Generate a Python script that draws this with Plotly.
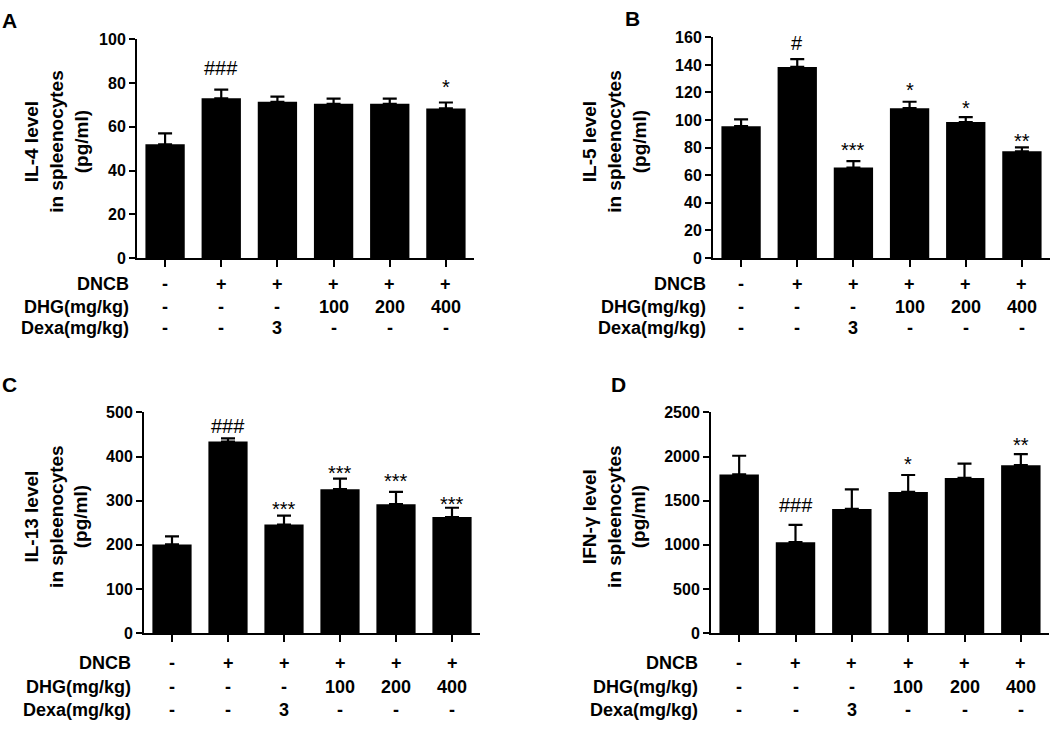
import plotly.graph_objects as go

# groups (same order in every panel)
groups = ["ctrl", "dncb", "dexa", "dhg100", "dhg200", "dhg400"]
dncb_row = ["-", "+", "+", "+", "+", "+"]
dhg_row = ["-", "-", "-", "100", "200", "400"]
dexa_row = ["-", "-", "3", "-", "-", "-"]

# panel A: IL-4
il4_mean = [52, 73, 71.4, 70.5, 70.5, 68.4]
il4_err = [5, 4, 2.4, 2.4, 2.4, 2.7]
il4_sig = ["", "###", "", "", "", "*"]
il4_sig_y = [0, 87, 0, 0, 0, 80]

# panel B: IL-5
il5_mean = [95.6, 138.5, 65.6, 108.6, 98.6, 77.4]
il5_err = [4.9, 5.7, 4.7, 4.7, 3.6, 2.8]
il5_sig = ["", "#", "***", "*", "*", "**"]
il5_sig_y = [0, 156, 81, 125, 112, 88]

# panel C: IL-13
il13_mean = [201, 434, 246, 326, 292, 263]
il13_err = [18, 7, 20, 24, 28, 21]
il13_sig = ["", "###", "***", "***", "***", "***"]
il13_sig_y = [0, 470, 291, 372, 354, 302]

# panel D: IFN-γ
ifn_mean = [1798, 1030, 1407, 1599, 1758, 1902]
ifn_err = [211, 196, 221, 192, 162, 125]
ifn_sig = ["", "###", "", "*", "", "**"]
ifn_sig_y = [0, 1447, 0, 1964, 0, 2179]

W, H = 1059, 732
FONT = "Arial, Liberation Sans, sans-serif"


def px_x(v):
    return v / W


def px_y(v):
    return 1 - v / H


panels = [
    dict(mean=il4_mean, err=il4_err, sig=il4_sig, sig_y=il4_sig_y, rng=100, dtick=20,
         title="IL-4 level<br>in spleenocytes<br>(pg/ml)", letter="A",
         x0=137, x1=474, ytop=32, yzero=256, title_x=56, title_y=137,
         letter_xy=(9, 13), rows_y=(283, 306, 328), label_x=131),
    dict(mean=il5_mean, err=il5_err, sig=il5_sig, sig_y=il5_sig_y, rng=160, dtick=20,
         title="IL-5 level<br>in spleenocytes<br>(pg/ml)", letter="B",
         x0=713, x1=1050, ytop=30, yzero=256, title_x=614, title_y=137,
         letter_xy=(632, 11), rows_y=(283, 306, 328), label_x=708),
    dict(mean=il13_mean, err=il13_err, sig=il13_sig, sig_y=il13_sig_y, rng=500, dtick=100,
         title="IL-13 level<br>in spleenocytes<br>(pg/ml)", letter="C",
         x0=144, x1=480, ytop=414, yzero=640, title_x=56, title_y=521,
         letter_xy=(9, 385), rows_y=(671, 695, 719), label_x=133),
    dict(mean=ifn_mean, err=ifn_err, sig=ifn_sig, sig_y=ifn_sig_y, rng=2500, dtick=500,
         title="IFN-γ level<br>in spleenocytes<br>(pg/ml)", letter="D",
         x0=711, x1=1049, ytop=414, yzero=640, title_x=614, title_y=521,
         letter_xy=(618, 385), rows_y=(671, 695, 719), label_x=700),
]

fig = go.Figure()
annotations = []

for i, p in enumerate(panels, start=1):
    xa = "x" if i == 1 else f"x{i}"
    ya = "y" if i == 1 else f"y{i}"

    fig.add_trace(go.Bar(
        x=groups, y=p["mean"], xaxis=xa, yaxis=ya,
        width=0.7,
        marker=dict(color="black", line=dict(width=0)),
        error_y=dict(type="data", array=p["err"], arrayminus=[0] * 6,
                     symmetric=False, color="black", thickness=2.2, width=7),
        showlegend=False,
    ))

    axis_common = dict(showline=True, linecolor="black", linewidth=2, ticks="outside",
                       tickcolor="black", tickwidth=2, showgrid=False, zeroline=False)
    fig.layout[f"xaxis{'' if i == 1 else i}"] = dict(
        domain=[px_x(p["x0"]), px_x(p["x1"])], anchor=ya, range=[-0.5, 5.5],
        type="category", showticklabels=False, ticklen=7, **axis_common)
    fig.layout[f"yaxis{'' if i == 1 else i}"] = dict(
        domain=[px_y(p["yzero"]), px_y(p["ytop"])], anchor=xa, range=[0, p["rng"]],
        dtick=p["dtick"], ticklen=6,
        tickfont=dict(family=FONT, size=16, color="black", weight="bold"), **axis_common)

    # significance marks (asterisks sit high in the font, nudge them down)
    for g, s, sy in zip(groups, p["sig"], p["sig_y"]):
        if s:
            annotations.append(dict(x=g, y=sy, xref=xa, yref=ya, text=s, showarrow=False,
                                    yshift=-4 if s.startswith("*") else 0,
                                    font=dict(family=FONT, size=20, color="black")))

    # treatment table below the axis
    for name, row, yy in zip(["DNCB", "DHG(mg/kg)", "Dexa(mg/kg)"],
                             [dncb_row, dhg_row, dexa_row], p["rows_y"]):
        annotations.append(dict(x=px_x(p["label_x"]), y=px_y(yy), xref="paper", yref="paper",
                                text=name, showarrow=False, xanchor="right", yanchor="middle",
                                font=dict(family=FONT, size=18, color="black", weight="bold")))
        for g, v in zip(groups, row):
            annotations.append(dict(x=g, y=px_y(yy), xref=xa, yref="paper", text=v,
                                    showarrow=False, xanchor="center", yanchor="middle",
                                    font=dict(family=FONT, size=18, color="black", weight="bold")))

    # y-axis title
    annotations.append(dict(x=px_x(p["title_x"]), y=px_y(p["title_y"]), xref="paper", yref="paper",
                            text=p["title"], textangle=-90, showarrow=False,
                            xanchor="center", yanchor="middle",
                            font=dict(family=FONT, size=19, color="black", weight="bold")))
    # panel letter
    lx, ly = p["letter_xy"]
    annotations.append(dict(x=px_x(lx), y=px_y(ly), xref="paper", yref="paper",
                            text=p["letter"], showarrow=False, xanchor="center", yanchor="middle",
                            font=dict(family=FONT, size=21, color="black", weight="bold")))

fig.update_layout(
    width=W, height=H,
    margin=dict(l=0, r=0, t=0, b=0),
    paper_bgcolor="white", plot_bgcolor="white",
    bargap=0.3,
    annotations=annotations,
)

# page margin off so the 1059x732 figure fills the window exactly
fig.write_html("out.html", config={"displayModeBar": False},
               post_script="document.body.style.margin='0';")
